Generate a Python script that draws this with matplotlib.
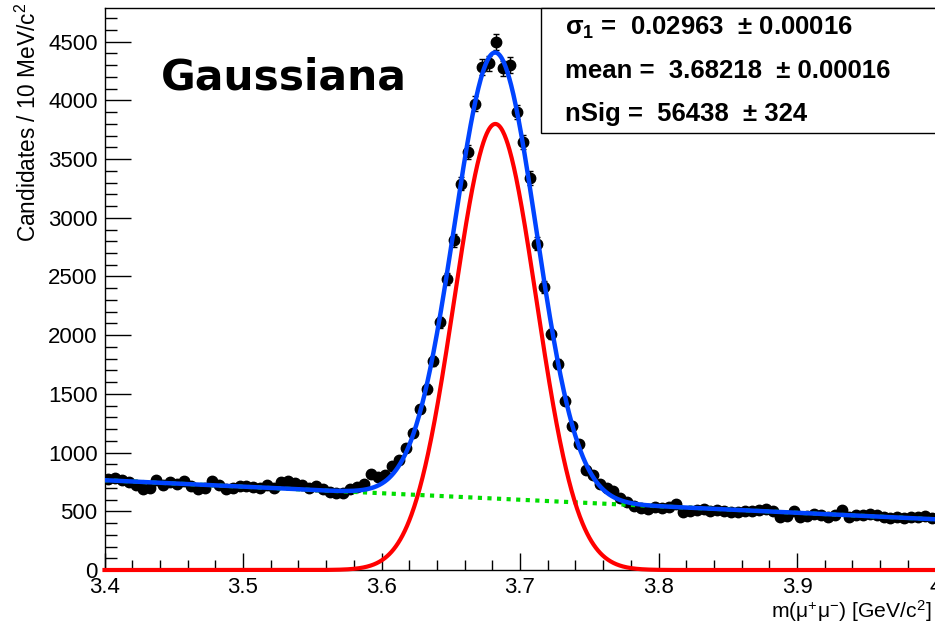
import numpy as np
import matplotlib
matplotlib.use("Agg")
import matplotlib.pyplot as plt
from matplotlib.ticker import MultipleLocator
from matplotlib.patches import Rectangle

plt.rcParams['font.family'] = ['Liberation Sans', 'DejaVu Sans']
plt.rcParams['mathtext.default'] = 'regular'

# ---------------- data ----------------
x_min, x_max = 3.4, 4.0
n_bins = 120
counts = [775, 785, 765, 748, 723, 690, 702, 765, 720, 748,
          730, 757, 715, 690, 700, 755, 725, 688, 695, 717,
          712, 705, 700, 722, 700, 752, 755, 740, 720, 700,
          715, 690, 668, 660, 655, 690, 705, 730, 820, 795,
          810, 890, 935, 1043, 1171, 1371, 1542, 1783, 2110, 2480,
          2807, 3291, 3561, 3973, 4286, 4315, 4500, 4272, 4300, 3902,
          3646, 3340, 2780, 2409, 2011, 1755, 1442, 1229, 1070, 850,
          810, 730, 700, 675, 610, 580, 545, 530, 520, 535,
          525, 540, 560, 495, 500, 510, 520, 505, 510, 500,
          495, 490, 505, 500, 515, 520, 500, 450, 460, 500,
          450, 460, 478, 470, 455, 470, 510, 455, 470, 470,
          480, 465, 450, 445, 455, 440, 455, 450, 460, 445]

# fit parameters (from the stats box) and background line end values
sigma1 = 0.02963
mean = 3.68218
nSig = 56438
bkg_lo = 765.0   # background per bin at x_min
bkg_hi = 432.0   # background per bin at x_max

stats_lines = ["σ$_{1}$ =  0.02963  ± 0.00016",
               "mean =  3.68218  ± 0.00016",
               "nSig =  56438  ± 324"]

y_max = 4787
xticks = [3.4, 3.5, 3.6, 3.7, 3.8, 3.9, 4.0]
xtick_labels = ["3.4", "3.5", "3.6", "3.7", "3.8", "3.9", "4"]

# ---------------- derived ----------------
counts = np.array(counts, dtype=float)
bw = (x_max - x_min) / n_bins
centers = x_min + bw * (np.arange(n_bins) + 0.5)
xf = np.linspace(x_min, x_max, 1501)
sig = nSig * bw / (np.sqrt(2 * np.pi) * sigma1) * np.exp(-0.5 * ((xf - mean) / sigma1) ** 2)
bkg = bkg_lo + (bkg_hi - bkg_lo) * (xf - x_min) / (x_max - x_min)
tot = sig + bkg

# ---------------- figure ----------------
W, H = 935, 625
fig = plt.figure(figsize=(W / 100, H / 100), dpi=100)
ax = fig.add_axes([104.5 / W, (H - 570) / H, (935.5 - 104.5) / W, (570 - 8) / H])

ax.errorbar(centers, counts, yerr=np.sqrt(counts), xerr=bw / 2, fmt='o',
            color='black', ms=7.5, elinewidth=1.0, capsize=2.5, capthick=1.0, zorder=2)
ax.plot(xf, bkg, color='#00dd00', lw=3, ls=(0, (1, 1.3)), zorder=3)
ax.plot(xf, tot, color='#0044ff', lw=3.2, zorder=4)
ax.plot(xf, sig, color='#ff0000', lw=3, zorder=5, clip_on=False)

ax.set_xlim(x_min, x_max)
ax.set_ylim(0, y_max)
ax.set_xticks(xticks)
ax.set_xticklabels(xtick_labels)
ax.xaxis.set_minor_locator(MultipleLocator(0.02))
ax.yaxis.set_major_locator(MultipleLocator(500))
ax.yaxis.set_minor_locator(MultipleLocator(100))
ax.tick_params(axis='both', which='both', direction='in', top=False, right=False,
               labelsize=16, width=1, color='black')
ax.tick_params(axis='x', which='major', length=12, pad=5)
ax.tick_params(axis='x', which='minor', length=7)
ax.tick_params(axis='y', which='major', length=19, pad=5)
ax.tick_params(axis='y', which='minor', length=8.5)
for s in ax.spines.values():
    s.set_linewidth(1.0)
    s.set_color('black')

fig.text(28 / W, 1 - 3 / H, "Candidates / 10 MeV/c$^{2}$", rotation=90,
         ha='center', va='top', fontsize=16.3)
fig.text(932 / W, 1 - 618 / H, "m(μ$^{+}$μ$^{-}$) [GeV/c$^{2}$]",
         ha='right', va='baseline', fontsize=15.2)

fig.text(161 / W, 1 - 90 / H, "Gaussiana", family='DejaVu Sans', fontweight='bold',
         fontsize=30.5, va='baseline', ha='left')

box = Rectangle((541 / W, 1 - 133 / H), 1.0, (133 - 8) / H, transform=fig.transFigure,
                facecolor='white', edgecolor='black', lw=1.0, zorder=5)
fig.add_artist(box)
for i, line in enumerate(stats_lines):
    fig.text(565 / W, 1 - (35 + 43 * i) / H, line, fontsize=18.5, fontweight='bold',
             ha='left', va='baseline', zorder=6)

fig.savefig("out.png", dpi=100)
